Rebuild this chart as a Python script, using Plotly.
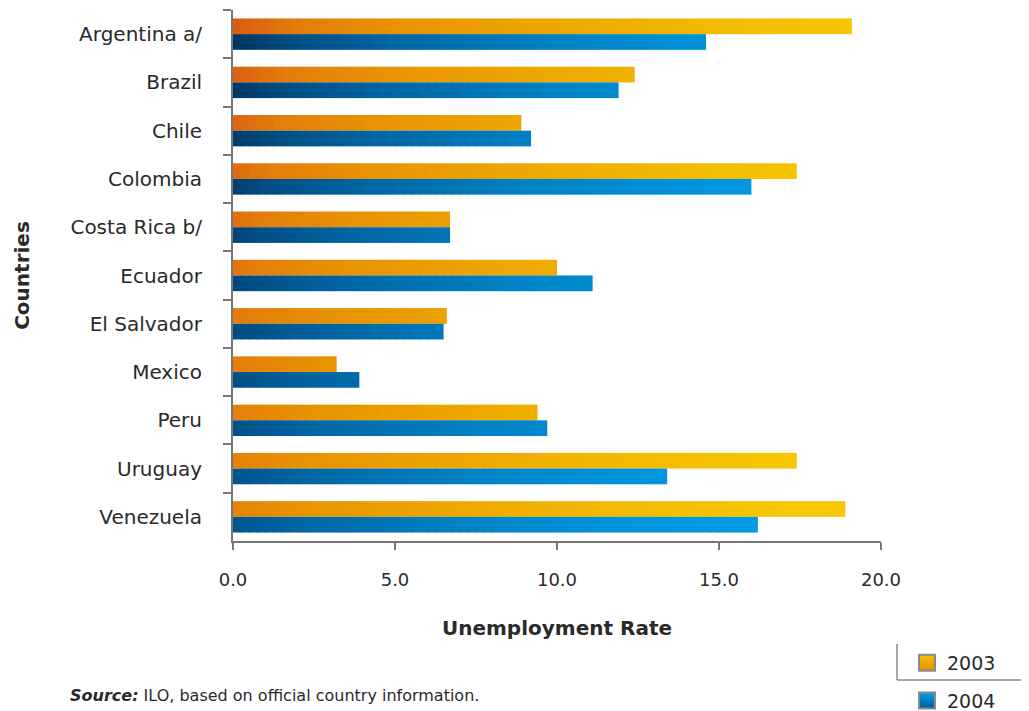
import plotly.graph_objects as go
from plotly.colors import sample_colorscale

# ---------------- data ----------------
countries = ["Argentina a/", "Brazil", "Chile", "Colombia", "Costa Rica b/", "Ecuador",
             "El Salvador", "Mexico", "Peru", "Uruguay", "Venezuela"]
rate_2003 = [19.1, 12.4, 8.9, 17.4, 6.7, 10.0, 6.6, 3.2, 9.4, 17.4, 18.9]
rate_2004 = [14.6, 11.9, 9.2, 16.0, 6.7, 11.1, 6.5, 3.9, 9.7, 13.4, 16.2]
series_names = ["2003", "2004"]
x_ticks = [0, 5, 10, 15, 20]

# ---------------- style ----------------
FONT = "DejaVu Sans"
TEXT = "#2a2a2a"
AXIS = "#777777"
X_MAX = 20
N_SEG = 80          # colour steps used to paint the gradient along each bar
OVERLAP = 0.03      # tiny overlap between steps to hide seams

# plot-area geometry (figure pixels)
L, R, T, B = 225, 156, 2, 178
PW, PH = 1029 - L - R, 711 - T - B

scale_2003 = [[0, "#dc5a14"], [0.1, "#e37d0c"], [0.25, "#e89300"], [0.5, "#eea800"],
              [0.75, "#f2bb00"], [1, "#f6c800"]]
scale_2004 = [[0, "#003460"], [0.1, "#004e84"], [0.25, "#0066a4"], [0.5, "#0082c4"],
              [0.75, "#0094dc"], [1, "#009de6"]]


def grad_color(scale, x, row):
    t = x / X_MAX + 0.15 * row / (len(countries) - 1)
    t = max(0.0, min(1.0, t))
    return sample_colorscale(scale, [t])[0]


fig = go.Figure()

seg_len = X_MAX / N_SEG
for name, values, scale in [("2003", rate_2003, scale_2003), ("2004", rate_2004, scale_2004)]:
    for j in range(N_SEG):
        start = j * seg_len
        lengths = [min(v, start + seg_len + OVERLAP) - start if v > start else None for v in values]
        if all(l is None for l in lengths):
            continue
        colors = [grad_color(scale, start + seg_len / 2, r) for r in range(len(countries))]
        fig.add_trace(go.Bar(
            y=countries, x=lengths, base=start, orientation="h",
            offsetgroup=name, showlegend=False,
            marker=dict(color=colors, line=dict(width=0)),
            customdata=values,
            hovertemplate=f"{name}: %{{customdata:.1f}}<extra>%{{y}}</extra>",
        ))

# legend swatches
legend_style = {
    "2003": ("#f6c400", "#e68a00"),
    "2004": ("#00a2ea", "#005a98"),
}
for name in series_names:
    top, bottom = legend_style[name]
    fig.add_trace(go.Scatter(
        x=[None], y=[None], mode="markers", name=name, legendgroup=name,
        marker=dict(symbol="square", size=16, color=top,
                    gradient=dict(type="vertical", color=bottom),
                    line=dict(color="#8a8a8a", width=2)),
    ))

fig.update_layout(
    width=1029, height=711, autosize=False,
    margin=dict(l=L, r=R, t=T, b=B, autoexpand=False),
    paper_bgcolor="white", plot_bgcolor="white",
    barmode="group", bargap=0.35, bargroupgap=0,
    font=dict(family=FONT, color=TEXT),
    showlegend=True,
    legend=dict(xref="container", yref="container", x=899 / 1029, y=1 - 636 / 711,
                xanchor="left", yanchor="top", font=dict(size=19, color=TEXT),
                traceorder="grouped", tracegroupgap=10, bgcolor="rgba(0,0,0,0)"),
    hovermode="closest",
)

fig.update_yaxes(
    type="category", categoryorder="array", categoryarray=countries, autorange="reversed",
    ticks="outside", tickson="boundaries", ticklen=8, tickwidth=2, tickcolor=AXIS,
    showline=True, linecolor=AXIS, linewidth=2, showgrid=False, zeroline=False,
    tickfont=dict(size=20, color=TEXT), ticklabelstandoff=25, automargin=False,
    title=dict(text="<b>Countries</b>", font=dict(size=20, color=TEXT), standoff=35),
)
fig.update_xaxes(
    range=[0, X_MAX], tickvals=x_ticks, tickformat=".1f",
    ticks="outside", ticklen=7, tickwidth=2, tickcolor=AXIS,
    showline=True, linecolor=AXIS, linewidth=2, showgrid=False, zeroline=False,
    tickfont=dict(size=18, color=TEXT), ticklabelstandoff=14, automargin=False,
    title=dict(text="<b>Unemployment Rate</b>", font=dict(size=20, color=TEXT), standoff=32),
)


def px_x(px):  # screen pixel -> paper x
    return (px - 8 - L) / PW


def px_y(py):  # screen pixel -> paper y
    return (711 - B - (py - 8)) / PH


# legend frame lines (decoration)
fig.add_shape(type="line", xref="paper", yref="paper",
              x0=px_x(897), x1=px_x(897), y0=px_y(644), y1=px_y(680),
              line=dict(color="#8a8a8a", width=1.5))
fig.add_shape(type="line", xref="paper", yref="paper",
              x0=px_x(897), x1=px_x(1100), y0=px_y(680), y1=px_y(680),
              line=dict(color="#8a8a8a", width=1.5))

fig.add_annotation(
    text="<b><i>Source:</i></b> ILO, based on official country information.",
    xref="paper", yref="paper", x=px_x(68), y=px_y(695),
    xanchor="left", yanchor="middle", showarrow=False,
    font=dict(size=16, color=TEXT, family=FONT),
)

fig.write_html("out.html")
